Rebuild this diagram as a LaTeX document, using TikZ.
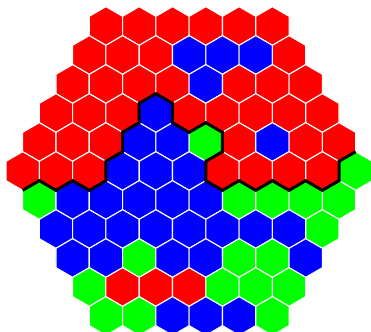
\documentclass[tikz,border=0pt]{standalone}
\usetikzlibrary{calc}
\definecolor{hexR}{RGB}{255,0,0}
\definecolor{hexB}{RGB}{0,0,255}
\definecolor{hexG}{RGB}{0,255,0}
\tikzset{
  hexcell/.style={draw=white, line width=1.1pt, line join=miter},
  winpath/.style={draw=black, line width=3pt, line join=miter}
}
\begin{document}
\begin{tikzpicture}[x=1pt,y=-1pt]
\useasboundingbox (0,0) rectangle (371,331);
\clip (0,0) rectangle (371,331);
\def\ha{16.65}
\def\hb{9.667}
\def\hR{19.333}
\foreach \r/\cols in {
  0/{R,R,R,R,R,R},
  1/{R,R,R,B,B,B,R},
  2/{R,R,R,R,B,R,R,R},
  3/{R,R,R,B,R,R,R,R,R},
  4/{R,R,R,B,B,G,R,B,R,R},
  5/{R,R,R,B,B,B,R,R,R,R,G},
  6/{G,B,B,B,B,B,G,G,G,G},
  7/{B,B,B,B,B,B,B,B,G},
  8/{B,B,G,B,B,G,G,B},
  9/{G,R,R,R,G,G,G},
  10/{G,G,B,B,B,G}}{
  \foreach \c [count=\i from 0] in \cols {
    \pgfmathsetmacro\cx{6+(abs(\r-5)+1)*16.65+\i*33.3}
    \pgfmathsetmacro\cy{26+\r*29}
    \coordinate (h-\r-\i) at (\cx,\cy);
    \path[hexcell, fill=hex\c] (h-\r-\i) ++(0,-\hR) -- ++(\ha,\hb) -- ++(0,\hR)
      -- ++(-\ha,\hb) -- ++(-\ha,-\hb) -- ++(0,-\hR) -- cycle;
  }
}
\draw[winpath] (h-5-0) ++(0,\hR)
  -- ++(\ha,-\hb) -- ++(\ha,\hb) -- ++(\ha,-\hb) -- ++(\ha,\hb) -- ++(\ha,-\hb)
  -- ++(0,-\hR) -- ++(\ha,-\hb) -- ++(0,-\hR) -- ++(\ha,-\hb) -- ++(0,-\hR)
  -- ++(\ha,-\hb) -- ++(\ha,\hb) -- ++(0,\hR) -- ++(\ha,\hb) -- ++(\ha,-\hb)
  -- ++(\ha,\hb) -- ++(0,\hR) -- ++(-\ha,\hb) -- ++(0,\hR)
  -- ++(\ha,\hb) -- ++(\ha,-\hb) -- ++(\ha,\hb) -- ++(\ha,-\hb) -- ++(\ha,\hb)
  -- ++(\ha,-\hb) -- ++(\ha,\hb) -- ++(\ha,-\hb) -- ++(0,-\hR) -- ++(\ha,-\hb);
\end{tikzpicture}
\end{document}
